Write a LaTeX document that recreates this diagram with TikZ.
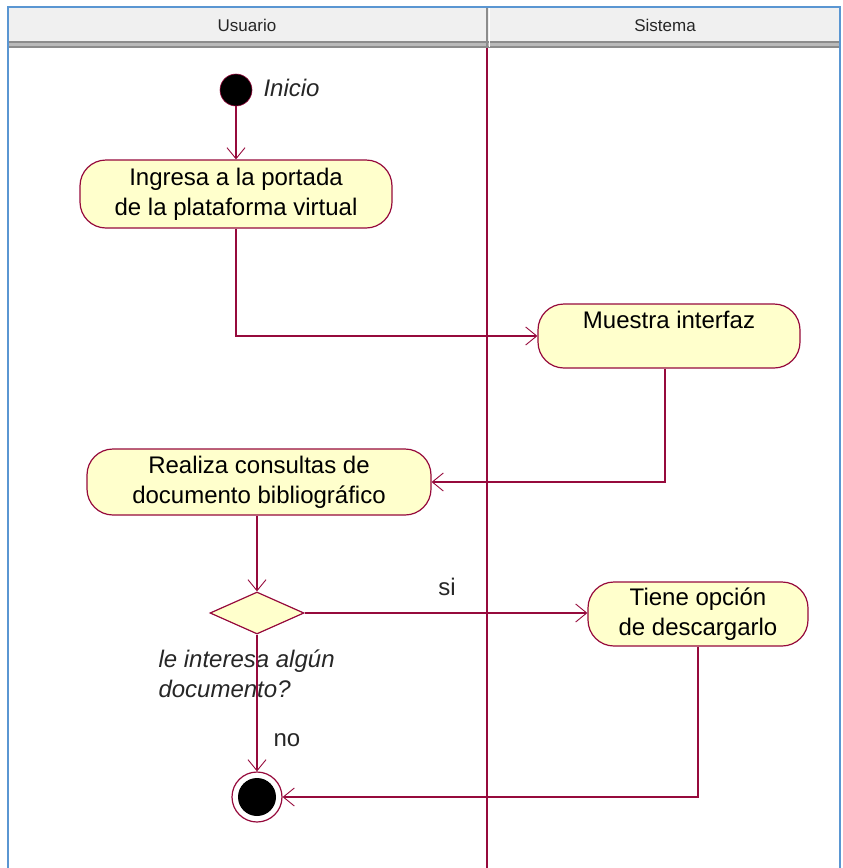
\documentclass[tikz,border=0pt]{standalone}
\usepackage{fontspec}
\setmainfont{Liberation Sans}
\usetikzlibrary{arrows.meta,shapes.geometric}
\definecolor{lineC}{RGB}{150,10,60}
\definecolor{actF}{RGB}{255,255,204}
\definecolor{hdrF}{RGB}{240,240,240}
\definecolor{hdrD}{RGB}{140,140,140}
\definecolor{frameB}{RGB}{90,150,210}
\tikzset{
  act/.style={draw=lineC, fill=actF, rounded corners=26pt, line width=1.2pt,
    font=\fontsize{24}{30}\selectfont, align=center, inner sep=0pt},
  conn/.style={draw=lineC, line width=1.2pt, -{Straight Barb[length=11pt,width=18pt,line width=0.9pt]}},
  lbl/.style={font=\fontsize{24}{30}\selectfont, text=black!85},
  ilbl/.style={font=\fontsize{24}{30}\selectfont\itshape, text=black!85},
  hdr/.style={font=\fontsize{17}{18}\selectfont, text=black!85}
}
\begin{document}
\begin{tikzpicture}[x=1pt,y=-1pt]
\useasboundingbox (0,0) rectangle (843,868);
% header
\fill[hdrF] (8,8) rectangle (840,42);
\fill[hdrD!60] (8,42) rectangle (840,48);
\draw[hdrD, line width=1.2pt] (8,42) -- (840,42);
\draw[hdrD, line width=1.2pt] (8,47) -- (840,47);
\draw[hdrD, line width=1.5pt] (487,8) -- (487,47);
\draw[white, line width=0.8pt] (489.5,8) -- (489.5,47);
\node[hdr] (husr) at (247,25) {Usuario};
\node[hdr] (hsis) at (665,25) {Sistema};
% frame
\draw[frameB, line width=1.5pt] (8,868) -- (8,7) -- (840,7) -- (840,868);
% lane divider
\draw[lineC, line width=1.5pt] (487,48) -- (487,868);
% nodes
\node[circle, fill=black, draw=lineC, line width=0.6pt, minimum size=32pt, inner sep=0pt] (start) at (236,90) {};
\node[ilbl, anchor=west] (inicio) at (260,88) {Inicio};
\node[act, minimum width=312pt, minimum height=68pt] (a1) at (236,194) {Ingresa a la portada\\de la plataforma virtual};
\node[act, minimum width=262pt, minimum height=64pt] (a2) at (669,336) {Muestra interfaz\\[-6pt]\strut};
\node[act, minimum width=344pt, minimum height=66pt] (a3) at (259,482) {Realiza consultas de\\documento bibliográfico};
\node[diamond, draw=lineC, fill=actF, line width=1.2pt, minimum width=94pt, minimum height=42pt, inner sep=0pt] (d) at (257,613) {};
\node[act, minimum width=220pt, minimum height=64pt] (a4) at (698,614) {Tiene opción\\de descargarlo};
\node[circle, draw=lineC, line width=1.2pt, fill=white, minimum size=50pt, inner sep=0pt] (end) at (257,797) {};
\node[circle, fill=black, minimum size=38pt, inner sep=0pt] (endin) at (end.center) {};
% labels
\node[lbl] (si) at (447,587) {si};
\node[lbl, anchor=west] (no) at (270,740) {no};
\node[ilbl, anchor=west, align=left] (q) at (155,674) {le interesa algún\\documento?};
% connectors
\draw[conn] (start) -- (a1.north);
\draw[conn] (a1.south) |- (a2.west);
\draw[conn] ([xshift=-4pt]a2.south) |- (a3.east);
\draw[conn] (a3.south -| d.north) -- (d.north);
\draw[conn] (d.east) -- (d.east -| a4.west);
\draw[conn] (a4.south) |- (end.east);
\draw[conn] (d.south) -- (end.north);
\end{tikzpicture}
\end{document}
